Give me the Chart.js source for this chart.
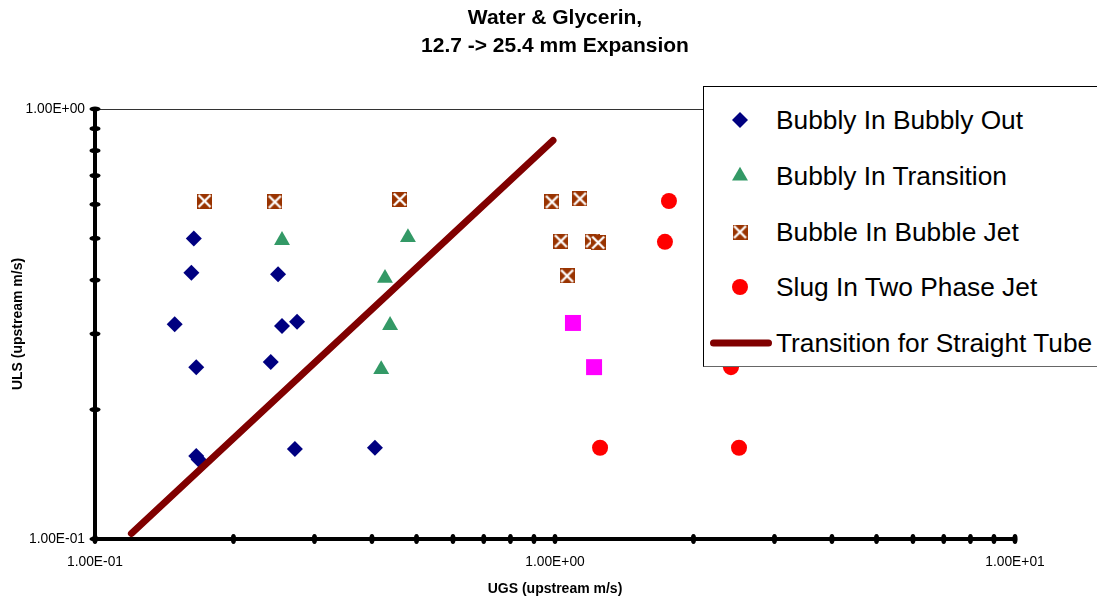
<!DOCTYPE html>
<html>
<head>
<meta charset="utf-8">
<script src="https://cdn.jsdelivr.net/npm/chart.js@4.4.1/dist/chart.umd.min.js"></script>
<style>
  html, body { margin: 0; padding: 0; background: #fff; overflow: hidden; }
  #wrap { position: relative; width: 1097px; height: 601px; }
  #legend {
    position: absolute; left: 703px; top: 86px; width: 420px; height: 279px;
    background: #fff; border: 1px solid #000; border-bottom-color: #666;
    font-family: "Liberation Sans", Arial, sans-serif; font-size: 26.3px; color: #000;
  }
  .row { position: absolute; left: 0; height: 30px; line-height: 30px; white-space: nowrap; }
  .row canvas { position: absolute; left: 0; top: 0; }
  .row span { position: absolute; left: 72px; top: 0; }
</style>
</head>
<body>
<div id="wrap">
  <canvas id="chart" width="1097" height="601"></canvas>
  <div id="legend"></div>
</div>
<script>
// values (UGS on x, ULS on y, both m/s)
const bubblyOutX = [0.164, 0.162, 0.149, 0.166, 0.166, 0.168, 0.250, 0.255, 0.275, 0.241, 0.272, 0.406];
const bubblyOutY = [0.500, 0.416, 0.316, 0.251, 0.156, 0.153, 0.413, 0.313, 0.320, 0.258, 0.162, 0.163];

const transitionX = [0.255, 0.479, 0.427, 0.438, 0.419];
const transitionY = [0.495, 0.503, 0.404, 0.314, 0.248];

const bubbleJetX = [0.173, 0.246, 0.460, 0.985, 1.133, 1.030, 1.204, 1.241, 1.062];
const bubbleJetY = [0.611, 0.608, 0.616, 0.608, 0.618, 0.493, 0.493, 0.489, 0.409];

const slugX = [1.769, 1.734, 1.253, 2.512, 2.413];
const slugY = [0.611, 0.491, 0.163, 0.163, 0.251];

// magenta points, not listed in the legend
const otherX = [1.094, 1.216];
const otherY = [0.318, 0.251];

const tubeX = [0.120, 0.990];
const tubeY = [0.103, 0.845];

const xTicks = [0.1, 0.2, 0.3, 0.4, 0.5, 0.6, 0.7, 0.8, 0.9, 1, 2, 3, 4, 5, 6, 7, 8, 9, 10];
const yTicks = [0.1, 0.2, 0.3, 0.4, 0.5, 0.6, 0.7, 0.8, 0.9, 1];
const labelledTicks = [0.1, 1, 10];

const titleLines = ['Water & Glycerin,', '12.7 -> 25.4 mm Expansion'];
const FONT = '"Liberation Sans", Arial, sans-serif';

function pts(xs, ys) {
  return xs.map((x, i) => ({x: x, y: ys[i]}));
}

// 1.00E-01 style
function fmtSci(v) {
  if (!labelledTicks.some(t => Math.abs(t - v) < 1e-9)) return '';
  const e = Math.round(Math.log10(v));
  const m = (v / Math.pow(10, e)).toFixed(2);
  const s = e < 0 ? '-' : '+';
  return m + 'E' + s + String(Math.abs(e)).padStart(2, '0');
}

function crossBox(size, color) {
  const c = document.createElement('canvas');
  c.width = size; c.height = size;
  const g = c.getContext('2d');
  g.fillStyle = color;
  g.fillRect(0, 0, size, size);
  g.strokeStyle = '#fff';
  g.lineWidth = 2.4;
  g.beginPath();
  g.moveTo(1.5, 1.5); g.lineTo(size - 1.5, size - 1.5);
  g.moveTo(size - 1.5, 1.5); g.lineTo(1.5, size - 1.5);
  g.stroke();
  return c;
}

const jetMarker = crossBox(15, '#993300');

const axisDots = {
  id: 'axisDots',
  beforeDatasetsDraw(chart) {
    const ctx = chart.ctx, x = chart.scales.x, y = chart.scales.y;
    ctx.save();
    ctx.fillStyle = '#000';
    xTicks.forEach(v => {
      const px = x.getPixelForValue(v);
      ctx.beginPath();
      ctx.ellipse(px, x.top, 2.6, 5, 0, 0, 2 * Math.PI);
      ctx.fill();
    });
    yTicks.forEach(v => {
      const py = y.getPixelForValue(v);
      ctx.beginPath();
      ctx.ellipse(y.right, py, 5.5, 2.6, 0, 0, 2 * Math.PI);
      ctx.fill();
    });
    ctx.restore();
  }
};

const datasets = [
  {label: 'Bubbly In Bubbly Out', data: pts(bubblyOutX, bubblyOutY), pointStyle: 'rectRot', pointRadius: 8,
   backgroundColor: '#000080', borderColor: '#000080', pointBorderWidth: 0, showLine: false, order: 2},
  {label: 'Bubbly In Transition', data: pts(transitionX, transitionY), pointStyle: 'triangle', pointRadius: 9.2,
   backgroundColor: '#339966', borderColor: '#339966', pointBorderWidth: 0, showLine: false, order: 2},
  {label: 'Bubble In Bubble Jet', data: pts(bubbleJetX, bubbleJetY), pointStyle: jetMarker, pointRadius: 8,
   backgroundColor: '#993300', borderColor: '#993300', pointBorderWidth: 0, showLine: false, order: 2},
  {label: 'Slug In Two Phase Jet', data: pts(slugX, slugY), pointStyle: 'circle', pointRadius: 8,
   backgroundColor: '#FF0000', borderColor: '#FF0000', pointBorderWidth: 0, showLine: false, order: 2},
  {label: '', data: pts(otherX, otherY), pointStyle: 'rect', pointRadius: 11.3,
   backgroundColor: '#FF00FF', borderColor: '#FF00FF', pointBorderWidth: 0, showLine: false, order: 2},
  {label: 'Transition for Straight Tube', data: pts(tubeX, tubeY), showLine: true, pointRadius: 0,
   borderColor: '#800000', backgroundColor: '#800000', borderWidth: 7, borderCapStyle: 'round', order: 1}
];

const tickFont = {family: FONT, size: 13.8};
const axisTitleFont = {family: FONT, size: 14, weight: 'bold'};

const chart = new Chart(document.getElementById('chart'), {
  type: 'scatter',
  data: {datasets: datasets},
  plugins: [axisDots],
  options: {
    responsive: false,
    animation: false,
    events: [],
    devicePixelRatio: 1,
    layout: {padding: {left: 0, right: 82, top: 0, bottom: 0}},
    plugins: {
      legend: {display: false},
      tooltip: {enabled: false},
      title: {
        display: true, text: titleLines, fullSize: false, color: '#000',
        font: {family: FONT, size: 21, weight: 'bold', lineHeight: 28 / 21},
        padding: {top: 4, bottom: 49}
      }
    },
    scales: {
      x: {
        type: 'logarithmic', position: 'bottom', min: 0.1, max: 10,
        afterBuildTicks: s => { s.ticks = xTicks.map(v => ({value: v})); },
        afterFit: s => { s.height = 62; },
        grid: {display: false, drawTicks: false},
        border: {display: true, color: '#000', width: 4},
        ticks: {autoSkip: false, maxRotation: 0, padding: 15, color: '#000', font: tickFont, callback: v => fmtSci(v)},
        title: {display: true, text: 'UGS (upstream m/s)', color: '#000', font: axisTitleFont, padding: {top: 0, bottom: 3}}
      },
      y: {
        type: 'logarithmic', position: 'left', min: 0.1, max: 1,
        afterBuildTicks: s => { s.ticks = yTicks.map(v => ({value: v})); },
        afterFit: s => { s.width = 95; },
        grid: {
          drawTicks: false, lineWidth: 1,
          color: c => (c.tick && Math.abs(c.tick.value - 1) < 1e-9) ? '#333' : 'rgba(0,0,0,0)'
        },
        border: {display: true, color: '#000', width: 4},
        ticks: {autoSkip: false, padding: 10, color: '#000', font: tickFont, callback: v => fmtSci(v)},
        title: {display: true, text: 'ULS (upstream m/s)', color: '#000', font: axisTitleFont, padding: {top: 10, bottom: 0}}
      }
    }
  }
});

// legend box drawn over the plot, like the original
const legendOrder = [0, 1, 2, 3, 5];
const legendEl = document.getElementById('legend');
legendOrder.forEach((di, i) => {
  const ds = datasets[di];
  const row = document.createElement('div');
  row.className = 'row';
  row.style.top = (33 + i * 55.75 - 15) + 'px';
  const c = document.createElement('canvas');
  c.width = 72; c.height = 30;
  const g = c.getContext('2d');
  if (ds.showLine) {
    g.strokeStyle = ds.borderColor;
    g.lineWidth = ds.borderWidth;
    g.lineCap = 'round';
    g.beginPath(); g.moveTo(9.5, 15); g.lineTo(64.5, 15); g.stroke();
  } else if (ds.pointStyle instanceof HTMLCanvasElement) {
    g.drawImage(ds.pointStyle, 36 - ds.pointStyle.width / 2, 15 - ds.pointStyle.height / 2);
  } else {
    g.fillStyle = ds.backgroundColor;
    g.strokeStyle = ds.borderColor;
    Chart.helpers.drawPoint(g, {pointStyle: ds.pointStyle, radius: ds.pointRadius, rotation: 0, borderWidth: 0}, 36, 15);
  }
  const span = document.createElement('span');
  span.textContent = ds.label;
  row.appendChild(c);
  row.appendChild(span);
  legendEl.appendChild(row);
});
</script>
</body>
</html>
